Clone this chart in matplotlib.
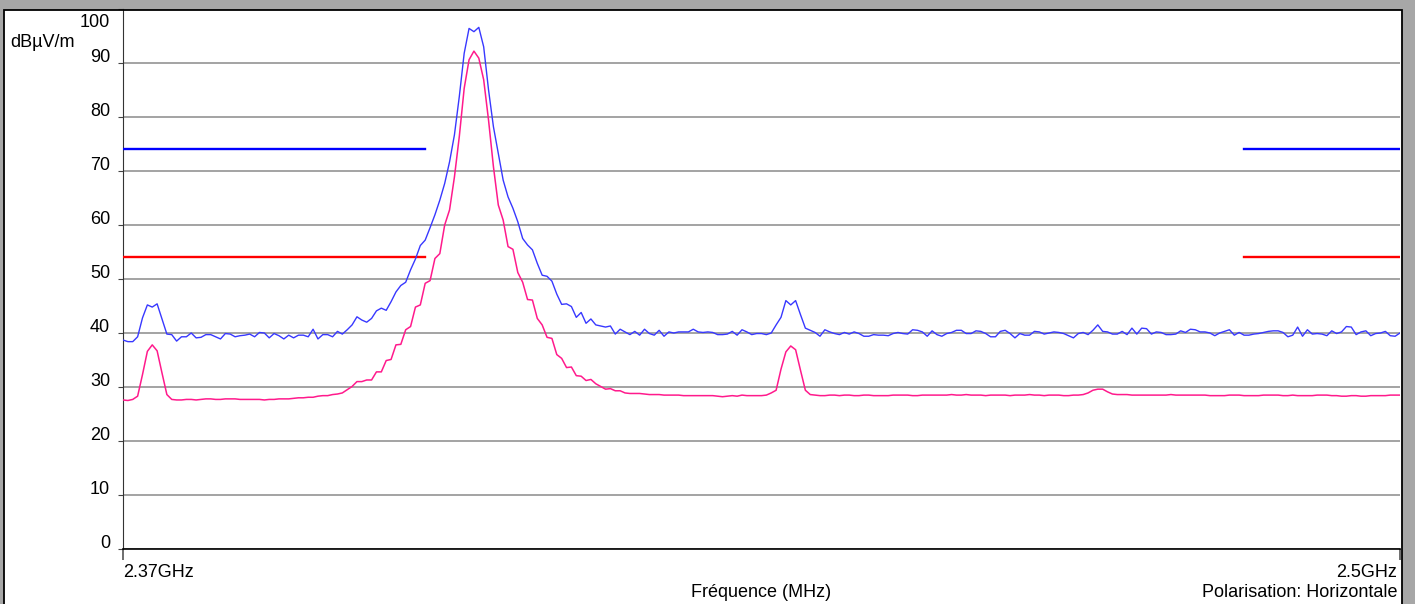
import numpy as np
import matplotlib
matplotlib.use("Agg")
import matplotlib.pyplot as plt
from matplotlib.patches import Rectangle
from matplotlib.transforms import offset_copy

plt.rcParams['font.family'] = ['Liberation Sans', 'DejaVu Sans']

# sweep 2370 -> 2500 MHz, one value per sample (dBuV/m)
f_start = 2370
f_stop = 2500

# peak detector trace (blue)
peak_trace = [
    38.7, 38.4, 38.4, 39.3, 42.8, 45.2, 44.8, 45.4, 42.6, 39.8,
    39.7, 38.5, 39.3, 39.3, 40.0, 39.1, 39.2, 39.7, 39.7, 39.3,
    38.9, 39.9, 39.8, 39.3, 39.5, 39.6, 39.8, 39.3, 40.1, 40.0,
    39.1, 39.9, 39.5, 38.9, 39.6, 39.1, 39.6, 39.6, 39.3, 40.7, 38.9,
    39.7, 39.7, 39.3, 40.3, 39.8, 40.6, 41.5, 43.0, 42.4, 42.0,
    42.7, 44.1, 44.6, 44.2, 45.8, 47.6, 48.8, 49.4, 51.7, 53.7,
    56.2, 57.2, 59.5, 61.9, 64.6, 67.7, 71.7, 76.7, 83.8, 91.8,
    96.4, 95.8, 96.6, 93.0, 85.0, 78.2, 73.3, 68.3, 65.2, 63.1,
    60.6, 57.5, 56.3, 55.4, 52.9, 50.7, 50.5, 49.6, 47.2, 45.3,
    45.4, 44.9, 42.9, 43.8, 41.8, 42.6, 41.5, 41.3, 41.1, 41.3,
    39.8, 40.7, 40.2, 39.7, 40.3, 39.6, 40.7, 39.9, 39.6, 40.5,
    39.4, 40.2, 40.0, 40.2, 40.2, 40.2, 40.7, 40.2, 40.1, 40.2,
    40.1, 39.7, 39.7, 39.8, 40.3, 39.6, 40.6, 40.2, 39.7, 39.9,
    39.9, 39.7, 40.0, 41.5, 42.9, 46.0, 45.2, 46.0, 43.4, 40.9,
    40.5, 40.1, 39.4, 40.6, 40.2, 39.9, 39.7, 40.1, 39.8, 40.2,
    39.9, 39.4, 39.4, 39.7, 39.6, 39.6, 39.5, 39.9, 40.1, 39.9,
    39.8, 40.6, 40.5, 40.2, 39.4, 40.4, 39.7, 39.4, 39.9, 40.1,
    40.5, 40.5, 39.9, 39.9, 40.4, 40.3, 39.9, 39.3, 39.3, 40.3,
    40.5, 39.9, 39.1, 39.9, 39.6, 39.6, 40.3, 40.2, 39.8, 40.0,
    40.2, 40.1, 39.9, 39.5, 39.1, 39.9, 40.1, 39.7, 40.5, 41.5,
    40.3, 40.2, 39.8, 39.8, 40.3, 39.7, 40.9, 39.8, 40.9, 40.8,
    39.8, 40.2, 40.1, 39.7, 39.7, 39.8, 40.4, 40.1, 40.7, 40.6,
    40.2, 40.2, 40.0, 39.5, 40.0, 40.3, 40.6, 39.6, 40.1, 39.6,
    39.6, 39.8, 39.9, 40.1, 40.3, 40.4, 40.4, 40.1, 39.3, 39.6,
    41.1, 39.4, 40.6, 39.8, 39.9, 39.8, 39.5, 40.4, 39.9, 40.2,
    41.2, 41.1, 39.7, 40.2, 40.4, 39.5, 39.9, 40.0, 40.3, 39.5,
    39.4, 40.0,
]

# average detector trace (pink)
avg_trace = [
    27.6, 27.5, 27.7, 28.3, 32.3, 36.6, 37.8, 36.7, 32.6, 28.6,
    27.7, 27.6, 27.6, 27.7, 27.7, 27.6, 27.7, 27.8, 27.8, 27.7,
    27.7, 27.8, 27.8, 27.8, 27.7, 27.7, 27.7, 27.7, 27.7, 27.6,
    27.7, 27.7, 27.8, 27.8, 27.8, 27.9, 28.0, 28.0, 28.1, 28.1, 28.3,
    28.4, 28.4, 28.6, 28.7, 28.9, 29.5, 30.1, 31.0, 31.0, 31.3,
    31.3, 32.8, 32.8, 34.9, 35.1, 37.8, 37.9, 40.6, 41.2, 44.8,
    45.2, 49.2, 49.7, 53.8, 54.7, 60.0, 62.8, 68.9, 76.4, 85.3,
    90.6, 92.2, 90.9, 86.9, 79.4, 70.8, 63.7, 60.9, 56.0, 55.5,
    51.2, 49.4, 46.2, 46.1, 42.7, 41.5, 39.2, 39.0, 36.0, 35.3,
    33.6, 33.7, 32.1, 32.0, 31.2, 31.4, 30.6, 30.1, 29.6, 29.7,
    29.3, 29.3, 28.9, 28.8, 28.8, 28.8, 28.7, 28.6, 28.6, 28.6,
    28.5, 28.5, 28.5, 28.5, 28.4, 28.4, 28.4, 28.4, 28.4, 28.4,
    28.4, 28.3, 28.2, 28.3, 28.4, 28.3, 28.5, 28.4, 28.4, 28.4,
    28.4, 28.5, 28.9, 29.4, 33.3, 36.5, 37.6, 36.9, 33.1, 29.4,
    28.6, 28.5, 28.4, 28.4, 28.5, 28.5, 28.4, 28.5, 28.5, 28.4,
    28.4, 28.5, 28.5, 28.4, 28.4, 28.4, 28.4, 28.5, 28.5, 28.5,
    28.5, 28.4, 28.4, 28.5, 28.5, 28.5, 28.5, 28.5, 28.5, 28.6,
    28.5, 28.5, 28.6, 28.5, 28.5, 28.5, 28.4, 28.5, 28.5, 28.5,
    28.5, 28.4, 28.5, 28.5, 28.5, 28.6, 28.5, 28.5, 28.4, 28.5,
    28.5, 28.5, 28.4, 28.4, 28.5, 28.5, 28.6, 28.9, 29.4, 29.6,
    29.6, 29.1, 28.7, 28.6, 28.6, 28.6, 28.5, 28.5, 28.5, 28.5,
    28.5, 28.5, 28.5, 28.5, 28.6, 28.5, 28.5, 28.5, 28.5, 28.5,
    28.5, 28.5, 28.4, 28.4, 28.4, 28.4, 28.5, 28.5, 28.5, 28.4,
    28.4, 28.4, 28.4, 28.5, 28.5, 28.5, 28.5, 28.4, 28.4, 28.5,
    28.4, 28.4, 28.4, 28.4, 28.5, 28.5, 28.5, 28.4, 28.4, 28.3,
    28.3, 28.4, 28.4, 28.3, 28.3, 28.4, 28.4, 28.4, 28.4, 28.5,
    28.5, 28.5,
]

# limits in the restricted bands (MHz, as drawn)
limit_bands = [(2370, 2400.7), (2484.1, 2500)]
limit_peak = 74
limit_avg = 54

y_ticks = list(range(0, 101, 10))

W, H = 1415, 604
fig = plt.figure(figsize=(W / 100, H / 100), dpi=100)
fig.patch.set_facecolor('#a7a7a7')

# white panel with black frame
fig.patches.append(Rectangle((3.5 / W, -0.05), (1401.5 - 3.5) / W, (H - 9.5) / H + 0.05,
                             transform=fig.transFigure, facecolor='white',
                             edgecolor='none', zorder=-1))
fig.patches.append(Rectangle((3.5 / W, -0.05), (1401.5 - 3.5) / W, (H - 9.5) / H + 0.05,
                             transform=fig.transFigure, fill=False,
                             edgecolor='black', lw=1.3, zorder=10))

ax = fig.add_axes([123 / W, (H - 549) / H, (1400 - 123) / W, (549 - 9) / H])
ax.patch.set_visible(False)

x_peak = np.linspace(f_start, f_stop, len(peak_trace))
x_avg = np.linspace(f_start, f_stop, len(avg_trace))

ax.plot(x_peak, peak_trace, color='#3838ff', lw=1.0, zorder=4)
ax.plot(x_avg, avg_trace, color='#ff1a8c', lw=1.1, zorder=4)

for lo, hi in limit_bands:
    ax.plot([lo, hi], [limit_peak, limit_peak], color='#0000ff', lw=1.7, zorder=3)
    ax.plot([lo, hi], [limit_avg, limit_avg], color='#ff0000', lw=1.7, zorder=3)

ax.set_xlim(f_start, f_stop)
ax.set_ylim(0, 100)

ax.set_yticks(y_ticks)
ax.set_yticklabels([])
ax.set_xticks([f_start, f_stop])
ax.set_xticklabels([])
ax.tick_params(axis='y', length=3.5, width=0.8, color='#444444')
ax.tick_params(axis='x', length=8, width=1.2, color='#555555')
ax.grid(axis='y', color='#8a8a8a', lw=1.1)
ax.set_axisbelow(True)

ax.spines['top'].set_visible(False)
ax.spines['right'].set_visible(False)
ax.spines['left'].set_color('#333333')
ax.spines['bottom'].set_color('black')
ax.spines['bottom'].set_linewidth(1.2)
ax.spines['bottom'].set_zorder(5)

# y labels sit on top of their gridline, 100 is pushed down inside
ytrans = ax.get_yaxis_transform()
lab_x = -13 / 1277
for v in y_ticks:
    if v == 100:
        tr = offset_copy(ytrans, fig=fig, y=-18, units='dots')
    else:
        tr = offset_copy(ytrans, fig=fig, y=1, units='dots')
    ax.text(lab_x, v, str(v), transform=tr, ha='right', va='baseline', fontsize=13)

fig.text(10 / W, 1 - 47 / H, 'dBµV/m', ha='left', va='baseline', fontsize=13)
fig.text(123 / W, 1 - 577 / H, '2.37GHz', ha='left', va='baseline', fontsize=13)
fig.text(1397 / W, 1 - 577 / H, '2.5GHz', ha='right', va='baseline', fontsize=13)
fig.text(761 / W, 1 - 597 / H, 'Fréquence (MHz)', ha='center', va='baseline', fontsize=13)
fig.text(1397 / W, 1 - 597 / H, 'Polarisation: Horizontale', ha='right', va='baseline', fontsize=13)

fig.savefig('out.png', dpi=100, facecolor=fig.get_facecolor())
